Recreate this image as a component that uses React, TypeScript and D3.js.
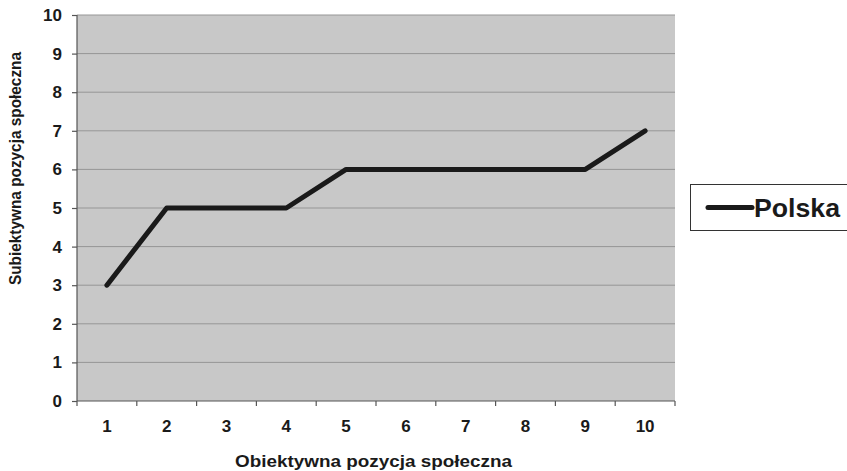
import React, { useEffect, useRef } from 'react';
import * as d3 from 'd3';

const CATEGORIES: string[] = ['1', '2', '3', '4', '5', '6', '7', '8', '9', '10'];
const POLSKA: number[] = [3, 5, 5, 5, 6, 6, 6, 6, 6, 7];
const Y_TICKS: number[] = [0, 1, 2, 3, 4, 5, 6, 7, 8, 9, 10];
const SERIES_NAME = 'Polska';

const FONT = 'Liberation Sans, Arial, Helvetica, sans-serif';

export default function App() {
  const ref = useRef<SVGSVGElement>(null);

  useEffect(() => {
    const svgEl = ref.current;
    if (!svgEl) return;
    const W = 847;
    const H = 471;
    const svg = d3.select(svgEl);
    svg.selectAll('*').remove();

    const left = 77;
    const right = 675;
    const top = 15;
    const bottom = 401;

    const x = d3.scaleBand<string>().domain(CATEGORIES).range([left, right]).padding(0);
    const y = d3.scaleLinear().domain([0, 10]).range([bottom, top]);

    svg.append('rect').attr('width', W).attr('height', H).attr('fill', '#ffffff');

    svg
      .append('rect')
      .attr('x', left)
      .attr('y', top)
      .attr('width', right - left)
      .attr('height', bottom - top)
      .attr('fill', '#c8c8c8');

    // horizontal gridlines
    svg
      .append('g')
      .selectAll('line')
      .data(Y_TICKS.filter((d) => d > 0))
      .join('line')
      .attr('x1', left)
      .attr('x2', right)
      .attr('y1', (d) => y(d))
      .attr('y2', (d) => y(d))
      .attr('stroke', '#969696')
      .attr('stroke-width', 1);

    // y axis
    const yAxis = d3.axisLeft(y).tickValues(Y_TICKS).tickSize(5).tickPadding(10).tickFormat(d3.format('d'));
    svg
      .append('g')
      .attr('transform', `translate(${left},0)`)
      .call(yAxis)
      .call((s) => s.selectAll('path,line').attr('stroke', '#555555').attr('stroke-width', 1.2))
      .call((s) => s.select('.domain').attr('d', `M0,${top}V${bottom}`))
      .call((s) =>
        s
          .selectAll('text')
          .attr('fill', '#1a1a1a')
          .attr('font-size', 17)
          .attr('font-weight', 700)
          .attr('font-family', FONT),
      );

    // x axis, ticks sit on the category boundaries
    const xAxis = d3.axisBottom(x).tickSize(0).tickPadding(19);
    svg
      .append('g')
      .attr('transform', `translate(0,${bottom})`)
      .call(xAxis)
      .call((s) => s.selectAll('path').attr('stroke', '#555555').attr('stroke-width', 1.2))
      .call((s) => s.select('.domain').attr('d', `M${left},0H${right}`))
      .call((s) =>
        s
          .selectAll('text')
          .attr('fill', '#1a1a1a')
          .attr('font-size', 17)
          .attr('font-weight', 700)
          .attr('font-family', FONT),
      );

    svg
      .append('g')
      .selectAll('line')
      .data(CATEGORIES.concat(['end']))
      .join('line')
      .attr('x1', (d, i) => left + i * x.bandwidth())
      .attr('x2', (d, i) => left + i * x.bandwidth())
      .attr('y1', bottom)
      .attr('y2', bottom + 5)
      .attr('stroke', '#555555')
      .attr('stroke-width', 1.2);

    // series line
    const line = d3
      .line<number>()
      .x((d, i) => (x(CATEGORIES[i]) ?? 0) + x.bandwidth() / 2)
      .y((d) => y(d));
    svg
      .append('path')
      .datum(POLSKA)
      .attr('d', line)
      .attr('fill', 'none')
      .attr('stroke', '#1a1a1a')
      .attr('stroke-width', 5)
      .attr('stroke-linejoin', 'round')
      .attr('stroke-linecap', 'round');

    // axis titles
    svg
      .append('text')
      .attr('x', 373.5)
      .attr('y', 467)
      .attr('text-anchor', 'middle')
      .attr('fill', '#1a1a1a')
      .attr('font-family', FONT)
      .attr('font-size', 17)
      .attr('font-weight', 700)
      .attr('textLength', 277)
      .attr('lengthAdjust', 'spacingAndGlyphs')
      .text('Obiektywna pozycja społeczna');

    svg
      .append('text')
      .attr('transform', `translate(21,168.5) rotate(-90)`)
      .attr('text-anchor', 'middle')
      .attr('fill', '#1a1a1a')
      .attr('font-family', FONT)
      .attr('font-size', 17)
      .attr('font-weight', 700)
      .attr('textLength', 233)
      .attr('lengthAdjust', 'spacingAndGlyphs')
      .text('Subiektywna pozycja społeczna');

    // legend
    const lg = svg.append('g');
    lg.append('rect')
      .attr('x', 690.5)
      .attr('y', 184.5)
      .attr('width', 170)
      .attr('height', 46)
      .attr('fill', '#ffffff')
      .attr('stroke', '#333333')
      .attr('stroke-width', 1);
    lg.append('line')
      .attr('x1', 708)
      .attr('x2', 752)
      .attr('y1', 207.5)
      .attr('y2', 207.5)
      .attr('stroke', '#1a1a1a')
      .attr('stroke-width', 5)
      .attr('stroke-linecap', 'round');
    lg.append('text')
      .attr('x', 754)
      .attr('y', 217)
      .attr('fill', '#1a1a1a')
      .attr('font-family', FONT)
      .attr('font-size', 25)
      .attr('font-weight', 700)
      .attr('textLength', 86)
      .attr('lengthAdjust', 'spacingAndGlyphs')
      .text(SERIES_NAME);
  }, []);

  return (
    <svg
      ref={ref}
      width={847}
      height={471}
      style={{ position: 'absolute', left: 0, top: 0, display: 'block' }}
    />
  );
}
